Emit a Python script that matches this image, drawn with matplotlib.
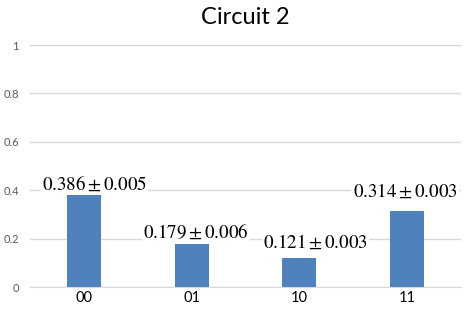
import numpy as np
import matplotlib
matplotlib.use('Agg')
from matplotlib import pyplot as plt

states = ['00', '01', '10', '11']
probs = [0.386, 0.179, 0.121, 0.314]
errors = [0.005, 0.006, 0.003, 0.003]

# label placement (offset from bar centre / bar top), by hand like the original
label_dx = [0.10, 0.04, 0.15, -0.02]
label_dy = [0.04, 0.05, 0.065, 0.08]

plt.rcParams['mathtext.fontset'] = 'stix'

fig = plt.figure(figsize=(4.7, 3.11), dpi=100)
ax = fig.add_axes([0.064, 0.077, 0.917, 0.778])

x = np.arange(len(states))
ax.bar(x, probs, width=0.315, color='#4f81bd', zorder=2)

for i in range(len(states)):
    txt = r'$%.3f\pm%.3f$' % (probs[i], errors[i])
    ax.text(x[i] + label_dx[i], probs[i] + label_dy[i], txt,
            ha='center', va='center', fontsize=13.7, color='black',
            bbox=dict(facecolor='white', edgecolor='none', pad=1),
            zorder=3)

ax.set_xlim(-0.5, len(states) - 0.5)
ax.set_ylim(0, 1)
ax.set_yticks([0, 0.2, 0.4, 0.6, 0.8, 1])
ax.set_yticklabels(['0', '0.2', '0.4', '0.6', '0.8', '1'])
ax.set_xticks(x)
ax.set_xticklabels(states)
ax.tick_params(axis='y', length=0, labelsize=8, labelcolor='#595959', pad=8)
ax.tick_params(axis='x', length=0, labelsize=10.5, labelcolor='black', pad=3)
for lab in ax.get_xticklabels() + ax.get_yticklabels():
    lab.set_family('Lato')

ax.grid(axis='y', color='#d9d9d9', linewidth=1, zorder=0)
for s in ['top', 'right', 'left']:
    ax.spines[s].set_visible(False)
ax.spines['bottom'].set_color('#d9d9d9')

fig.text(0.522, 0.945, 'Circuit 2', ha='center', va='center',
         fontsize=17, family='Lato')

plt.savefig('out.png', dpi=100)
